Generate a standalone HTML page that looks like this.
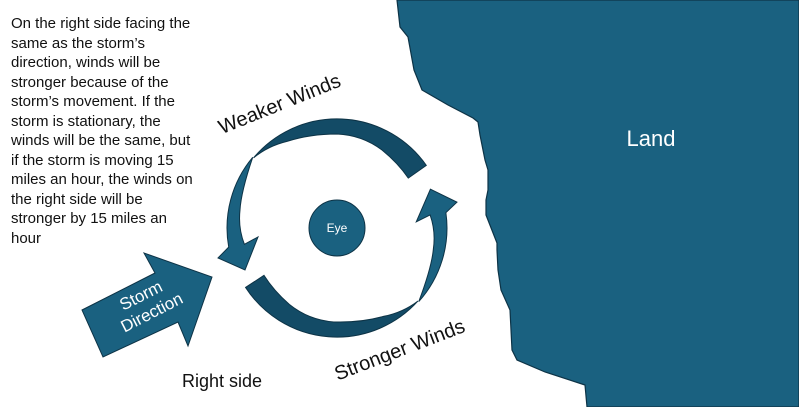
<!DOCTYPE html>
<html><head><meta charset="utf-8"><style>
html,body{margin:0;padding:0;background:#fff;}
body{width:799px;height:407px;position:relative;overflow:hidden;font-family:"Liberation Sans",sans-serif;}
.t{position:absolute;left:11px;top:14px;width:230px;font-size:15px;line-height:19.5px;color:#111;white-space:nowrap;}
</style></head><body>
<svg width="799" height="407" style="position:absolute;left:0;top:0">
<path d="M397,0 L400,27 L408,37 L414,70 L422,90 L448,105 L473,118 L478,122 L480,135 L485,160 L488,170 L488,190 L486,200 L486,215 L497,243 L497,250 L498,270 L501,290 L510,310 L512,350 L517,360 L545,372 L585,385 L587,407 L799,407 L799,0 Z" fill="#1a6180" stroke="#0d3346" stroke-width="1.2"/>
<text x="651" y="146" font-size="22" fill="#fff" text-anchor="middle" font-family="Liberation Sans, sans-serif">Land</text>
<g id="half" stroke="#0d3346" stroke-width="1">
<path d="M426.3,165.4 A109,109 0 0 0 253.5,157.9 Q268,146 287,141.4 Q310,134 337,134 Q362,135 382,150 Q398,163 408.3,178.1 Z" fill="#134b66"/>
<path d="M252.7,157.3 A110,110 0 0 0 228.7,247.1 L218,258 L245,270 L258,237 L244.4,244.3 Q238,228 240,210 Q241,192 252.7,157.3 Z" fill="#1a6180"/>
</g>
<use href="#half" transform="rotate(182 337 228)"/>
<circle cx="337" cy="228" r="28" fill="#1a6180" stroke="#0d3346" stroke-width="1"/>
<text x="337" y="232" font-size="12" fill="#fff" text-anchor="middle" font-family="Liberation Sans, sans-serif">Eye</text>
<polygon points="82,310 155,273 144,253 212,277 188,346 178,322 103,357" fill="#1a6180" stroke="#0d3346" stroke-width="1"/>
<g transform="rotate(-27 148 305)" font-size="17" fill="#fff" text-anchor="middle" font-family="Liberation Sans, sans-serif">
<text x="146" y="299">Storm</text><text x="148" y="319">Direction</text></g>
<text transform="translate(282,110) rotate(-22)" font-size="20" text-anchor="middle" fill="#111" font-family="Liberation Sans, sans-serif">Weaker Winds</text>
<text transform="translate(402,356) rotate(-21)" font-size="20" text-anchor="middle" fill="#111" font-family="Liberation Sans, sans-serif">Stronger Winds</text>
<text x="222" y="387" font-size="18" text-anchor="middle" fill="#111" font-family="Liberation Sans, sans-serif">Right side</text>
</svg>
<div class="t">On the right side facing the<br>same as the storm’s<br>direction, winds will be<br>stronger because of the<br>storm’s movement. If the<br>storm is stationary, the<br>winds will be the same, but<br>if the storm is moving 15<br>miles an hour, the winds on<br>the right side will be<br>stronger by 15 miles an<br>hour</div>
</body></html>
